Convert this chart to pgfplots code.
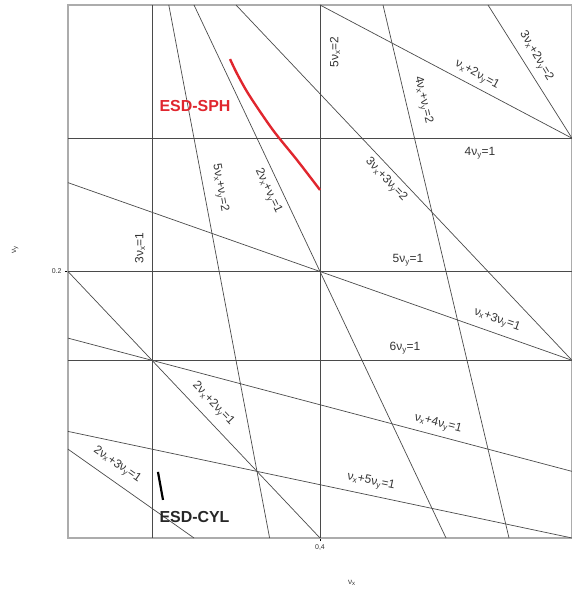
\documentclass[border=0pt]{standalone}
\usepackage{fontspec}
\setmainfont{Liberation Sans}
\usepackage{pgfplots}
\pgfplotsset{compat=1.18}
\definecolor{lineg}{HTML}{4A4A4A}
\definecolor{txtg}{HTML}{333333}
\definecolor{esdred}{HTML}{E0262E}
\newcommand{\s}[1]{\textsubscript{#1}}
\tikzset{lbl/.style={font=\fontsize{12}{13}\selectfont, text=txtg, inner sep=0pt},
  rl/.style={lineg, line width=0.7pt, solid, mark=none}}
\begin{document}
\begin{tikzpicture}[x=1bp,y=1bp]
\useasboundingbox (-68,-55) rectangle (504,538);
\begin{axis}[
  at={(0,0)}, anchor=south west,
  scale only axis, width=504bp, height=533bp,
  xmin=0.3, xmax=0.5, ymin=0.1, ymax=0.3,
  xtick={0.4}, xticklabels={0{,}4},
  ytick={0.2}, yticklabels={0.2},
  tick align=outside, major tick length=3bp,
  tick style={black, line width=0.6pt},
  xtick pos=bottom, ytick pos=left,
  ticklabel style={font=\fontsize{7}{8}\selectfont, text=txtg},
  /pgf/number format/assume math mode=true,
  axis line style={gray!65, line width=1.4pt},
  clip=false,
]
% verticals and horizontals
\addplot[rl] coordinates {(0.333333,0.1) (0.333333,0.3)};
\addplot[rl] coordinates {(0.4,0.1) (0.4,0.3)};
\addplot[rl] coordinates {(0.3,0.25) (0.5,0.25)};
\addplot[rl] coordinates {(0.3,0.2) (0.5,0.2)};
\addplot[rl] coordinates {(0.3,0.166667) (0.5,0.166667)};
% diagonals
\addplot[rl] coordinates {(0.4,0.3) (0.5,0.25)};            % nx+2ny=1
\addplot[rl] coordinates {(0.466667,0.3) (0.5,0.25)};       % 3nx+2ny=2
\addplot[rl] coordinates {(0.425,0.3) (0.475,0.1)};         % 4nx+ny=2
\addplot[rl] coordinates {(0.366667,0.3) (0.5,0.166667)};   % 3nx+3ny=2
\addplot[rl] coordinates {(0.34,0.3) (0.38,0.1)};           % 5nx+ny=2
\addplot[rl] coordinates {(0.35,0.3) (0.45,0.1)};           % 2nx+ny=1
\addplot[rl] coordinates {(0.3,0.233333) (0.5,0.166667)};   % nx+3ny=1
\addplot[rl] coordinates {(0.3,0.175) (0.5,0.125)};         % nx+4ny=1
\addplot[rl] coordinates {(0.3,0.14) (0.5,0.1)};            % nx+5ny=1
\addplot[rl] coordinates {(0.3,0.2) (0.4,0.1)};             % 2nx+2ny=1
\addplot[rl] coordinates {(0.3,0.133333) (0.35,0.1)};       % 2nx+3ny=1
% ESD curves
\addplot[esdred, line width=2.4pt, smooth, tension=0.5, mark=none] coordinates {
 (0.3643,0.2797) (0.3672,0.2740) (0.3720,0.2660) (0.3813,0.2531) (0.3909,0.2418) (0.4,0.2306)};
\addplot[black, line width=2.2pt, mark=none] coordinates {(0.3357,0.1248) (0.3377,0.1143)};
% labels
\node[lbl, rotate=90] at (axis cs:0.40595,0.28236) {5ν\s{x}=2};
\node[lbl, rotate=90] at (axis cs:0.32857,0.20882) {3ν\s{x}=1};
\node[lbl, rotate=-79.6] at (axis cs:0.36032,0.23133) {5ν\s{x}+ν\s{y}=2};
\node[lbl, rotate=-64.7] at (axis cs:0.37937,0.23021) {2ν\s{x}+ν\s{y}=1};
\node[lbl, rotate=-76.7] at (axis cs:0.44087,0.26435) {4ν\s{x}+ν\s{y}=2};
\node[lbl, rotate=-28.4] at (axis cs:0.46230,0.27373) {ν\s{x}+2ν\s{y}=1};
\node[lbl, rotate=-59.3] at (axis cs:0.48571,0.28086) {3ν\s{x}+2ν\s{y}=2};
\node[lbl] at (axis cs:0.46349,0.24447) {4ν\s{y}=1};
\node[lbl, rotate=-46.7] at (axis cs:0.42619,0.23433) {3ν\s{x}+3ν\s{y}=2};
\node[lbl] at (axis cs:0.43492,0.20432) {5ν\s{y}=1};
\node[lbl, rotate=-19.6] at (axis cs:0.47024,0.1818) {ν\s{x}+3ν\s{y}=1};
\node[lbl] at (axis cs:0.43373,0.1713) {6ν\s{y}=1};
\node[lbl, rotate=-14.8] at (axis cs:0.44683,0.14278) {ν\s{x}+4ν\s{y}=1};
\node[lbl, rotate=-11.9] at (axis cs:0.42024,0.12101) {ν\s{x}+5ν\s{y}=1};
\node[lbl, rotate=-46.3] at (axis cs:0.35754,0.15028) {2ν\s{x}+2ν\s{y}=1};
\node[lbl, rotate=-35] at (axis cs:0.31944,0.12739) {2ν\s{x}+3ν\s{y}=1};
\node[font=\fontsize{16}{18}\selectfont\bfseries, text=esdred, inner sep=0pt] at (axis cs:0.3504,0.2621) {ESD-SPH};
\node[font=\fontsize{16}{18}\selectfont\bfseries, text=black!85, inner sep=0pt] at (axis cs:0.3502,0.10788) {ESD-CYL};
% axis labels
\node[font=\fontsize{8}{9}\selectfont, text=txtg, rotate=90] at (rel axis cs:-0.105,0.54) {ν\s{y}};
\node[font=\fontsize{8}{9}\selectfont, text=txtg] at (rel axis cs:0.563,-0.085) {ν\s{x}};
\end{axis}
\end{tikzpicture}
\end{document}
